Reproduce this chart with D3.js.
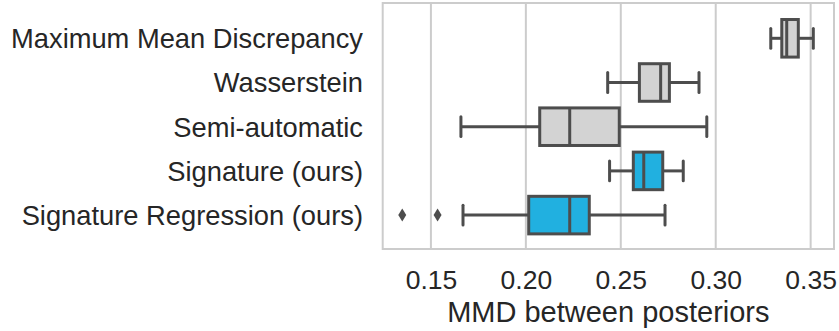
<!DOCTYPE html>
<html><head><meta charset="utf-8">
<script src="https://cdn.jsdelivr.net/npm/d3@7"></script>
<style>body{margin:0;background:#fff}svg{display:block}text{font-family:"Liberation Sans",Arial,sans-serif;fill:#262626}</style>
</head><body><svg id="c" width="839" height="331"></svg>
<script>
const categories = ["Maximum Mean Discrepancy","Wasserstein","Semi-automatic","Signature (ours)","Signature Regression (ours)"];
const whiskerLow  = [0.329, 0.2431, 0.1658, 0.2441, 0.1669];
const q1          = [0.3348, 0.2598, 0.2073, 0.2566, 0.2015];
const median      = [0.3374, 0.2710, 0.2231, 0.2621, 0.2231];
const q3          = [0.3435, 0.2756, 0.2492, 0.2721, 0.2334];
const whiskerHigh = [0.3514, 0.2912, 0.2953, 0.2829, 0.2733];
const outliers    = [[], [], [], [], [0.1349, 0.1535]];
const fills       = ["#d3d3d3","#d3d3d3","#d3d3d3","#21b0e0","#21b0e0"];
const xTicks      = [0.15, 0.20, 0.25, 0.30, 0.35];
const xLabel      = "MMD between posteriors";

const svg = d3.select("#c");
const L = 382.7, R = 834, T = 3, B = 249;
const x = d3.scaleLinear().domain([0.1246, 0.3623]).range([L, R]);
const y = d3.scaleBand().domain(categories).range([16.2, 237.2]).paddingInner(0.15).paddingOuter(0.075);
const stroke = "#4d4d4d", sw = 3;

// grid
svg.append("g").selectAll("line").data(xTicks).join("line")
  .attr("x1", d => x(d)).attr("x2", d => x(d)).attr("y1", T).attr("y2", B)
  .attr("stroke", "#cccccc").attr("stroke-width", 2);
// frame
svg.append("rect").attr("x", L).attr("y", T).attr("width", R - L).attr("height", B - T)
  .attr("fill", "none").attr("stroke", "#cccccc").attr("stroke-width", 2);

// x axis
const xa = svg.append("g").attr("transform", `translate(0,${B})`)
  .call(d3.axisBottom(x).tickValues(xTicks).tickFormat(d3.format(".2f")).tickSize(0).tickPadding(0));
xa.select(".domain").remove();
xa.selectAll("text").attr("dy", null).attr("y", 40.3).attr("font-size", 26.5).style("fill", "#262626");

svg.append("text").attr("x", (L + R) / 2).attr("y", 321.7).attr("text-anchor", "middle")
  .attr("font-size", 29).text(xLabel);

// y labels
svg.append("g").selectAll("text").data(categories).join("text")
  .attr("x", 363).attr("y", d => y(d) + y.bandwidth() / 2).attr("dy", "0.36em")
  .attr("text-anchor", "end").attr("font-size", 27.3).text(d => d);

const g = svg.append("g").selectAll("g").data(categories).join("g");
g.each(function(c, i) {
  const s = d3.select(this);
  const y0 = y(c), h = y.bandwidth(), cy = y0 + h / 2;
  s.append("line").attr("x1", x(whiskerLow[i])).attr("x2", x(q1[i])).attr("y1", cy).attr("y2", cy)
    .attr("stroke", stroke).attr("stroke-width", sw);
  s.append("line").attr("x1", x(q3[i])).attr("x2", x(whiskerHigh[i])).attr("y1", cy).attr("y2", cy)
    .attr("stroke", stroke).attr("stroke-width", sw);
  [whiskerLow[i], whiskerHigh[i]].forEach(v => {
    s.append("line").attr("x1", x(v)).attr("x2", x(v)).attr("y1", cy - h / 4 - 0.5).attr("y2", cy + h / 4 + 0.5)
      .attr("stroke", stroke).attr("stroke-width", sw).attr("stroke-linecap", "round");
  });
  s.append("rect").attr("x", x(q1[i])).attr("y", y0).attr("width", x(q3[i]) - x(q1[i])).attr("height", h)
    .attr("fill", fills[i]).attr("stroke", stroke).attr("stroke-width", sw);
  s.append("line").attr("x1", x(median[i])).attr("x2", x(median[i])).attr("y1", y0).attr("y2", y0 + h)
    .attr("stroke", stroke).attr("stroke-width", sw);
  s.selectAll("path.o").data(outliers[i]).join("path").attr("class", "o")
    .attr("transform", v => `translate(${x(v)},${cy})`)
    .attr("d", "M0,-6.5L4,0L0,6.5L-4,0Z").attr("fill", stroke);
});
</script></body></html>
